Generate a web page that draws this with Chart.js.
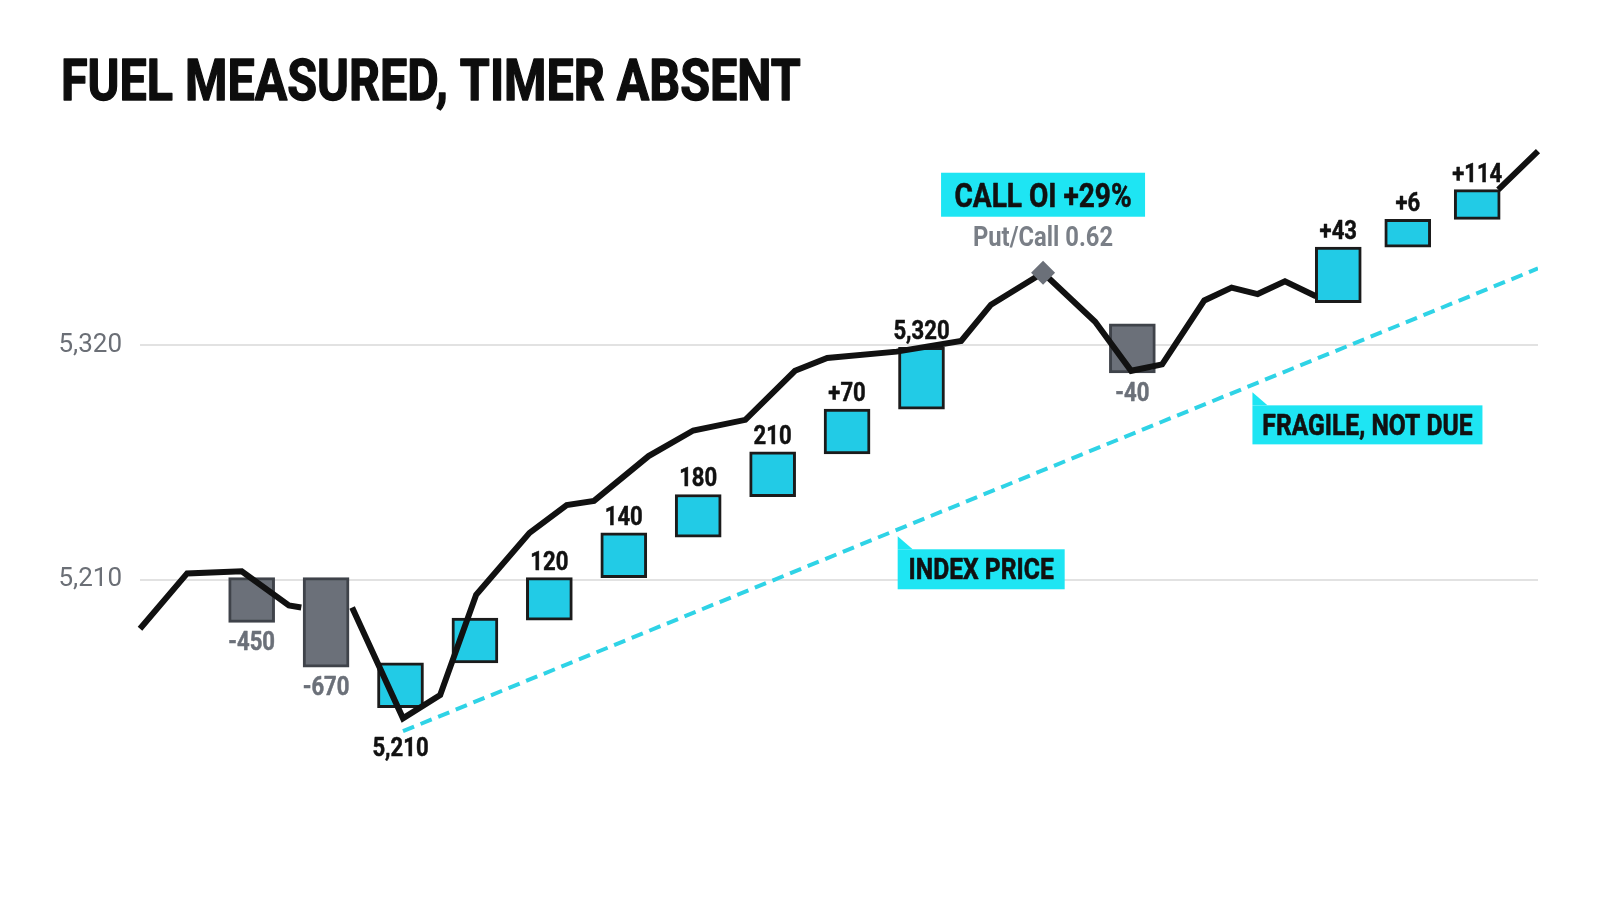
<!DOCTYPE html>
<html>
<head>
<meta charset="utf-8">
<script src="https://cdn.jsdelivr.net/npm/chart.js@4.4.1/dist/chart.umd.min.js"></script>
<style>
  html, body { margin: 0; background: #fff; }
  #wrap { width: 1600px; height: 914px; }
</style>
</head>
<body>
<div id="wrap"><canvas id="chart" width="1600" height="914"></canvas></div>
<script>
// index price by session (null = no print)
const priceX = [0, 1.9, 4.1, 6.0, 6.5, 7.5, 8.55, 10.6, 12.1, 13.55, 15.7, 17.2, 18.3, 20.5, 22.3, 24.4, 26.4, 27.7, 30.5, 33.1, 34.3, 36.4, 38.5, 39.95, 41.2, 42.9, 44.0, 45.05, 46.15, 47.4, 48.0, 54.75, 56.35];
const priceY = [5187, 5213, 5214, 5198, 5197, null, 5197, 5145, 5156, 5203, 5232, 5245, 5247, 5268, 5280, 5285, 5308, 5314, 5317, 5322, 5339, 5354, 5331, 5308, 5311, 5341, 5347, 5344, 5350, 5343, null, 5393, 5411];

// flow boxes (floating bars)
const flowX = [4.5, 7.5, 10.5, 13.5, 16.5, 19.5, 22.5, 25.5, 28.5, 31.5, 40.0, 48.3, 51.1, 53.9];
const flowLo = [5190, 5169, 5150, 5171, 5191, 5211, 5230, 5249, 5269, 5290, 5307, 5340, 5366, 5379];
const flowHi = [5211, 5211, 5171, 5192, 5211, 5232, 5250, 5270, 5290, 5319, 5330, 5366, 5379, 5393];
const flowLabels = ['-450', '-670', '5,210', '', '120', '140', '180', '210', '+70', '5,320', '-40', '+43', '+6', '+114'];
const flowBelow = [1, 1, 1, 0, 0, 0, 0, 0, 0, 0, 1, 0, 0, 0];

// dashed trend
const trendX = [10.6, 56.35];
const trendY = [5139, 5356];

// call OI peak
const peakX = [36.4];
const peakY = [5354];

const yTicks = [5210, 5320];

const BLUE = '#22cbe6';
const GRAY = '#6b7079';
const CYAN = '#1ee5f3';
const SQ = 0.85;

function txt(ctx, s, x, y, size, weight, color, align, sq, stroke) {
  ctx.save();
  ctx.font = weight + ' ' + size + 'px Roboto, "Liberation Sans", sans-serif';
  ctx.fillStyle = color;
  ctx.textAlign = align || 'center';
  ctx.textBaseline = 'alphabetic';
  ctx.translate(x, y);
  ctx.scale(sq || SQ, 1);
  ctx.fillText(s, 0, 0);
  if (stroke) {
    ctx.strokeStyle = color;
    ctx.lineWidth = stroke;
    ctx.lineJoin = 'round';
    ctx.strokeText(s, 0, 0);
  }
  ctx.restore();
}

function callout(ctx, s, left, top, w, h) {
  ctx.save();
  ctx.fillStyle = CYAN;
  ctx.fillRect(left, top, w, h);
  ctx.beginPath();
  ctx.moveTo(left, top - 13);
  ctx.lineTo(left, top);
  ctx.lineTo(left + 15, top);
  ctx.closePath();
  ctx.fill();
  ctx.restore();
  txt(ctx, s, left + w / 2, top + h / 2 + 10, 29, 'bold', '#111', 'center', SQ, 0.6);
}

const decor = {
  id: 'decor',
  afterDatasetsDraw(chart) {
    const ctx = chart.ctx;
    const xs = chart.scales.x, ys = chart.scales.y;

    txt(ctx, 'FUEL MEASURED, TIMER ABSENT', 61, 100, 58, 'bold', '#0d0d0d', 'left', 0.835, 1.4);

    // bar labels
    const line = chart.getDatasetMeta(0).data;
    chart.getDatasetMeta(1).data.forEach((el, i) => {
      const s = flowLabels[i];
      if (!s) return;
      const top = Math.min(el.y, el.base), bot = Math.max(el.y, el.base);
      const col = s[0] === '-' ? GRAY : '#111';
      if (flowBelow[i]) {
        let y = bot + 9;
        line.forEach(p => {
          if (!p.skip && Math.abs(p.x - el.x) < 24 && p.y > bot) y = Math.max(y, p.y + 19);
        });
        txt(ctx, s, el.x, y + 19, 26, 'bold', col, 'center', SQ, 0.5);
      } else {
        txt(ctx, s, el.x, top - 8, 26, 'bold', col, 'center', SQ, 0.5);
      }
    });

    // peak callout
    const px = xs.getPixelForValue(peakX[0]), py = ys.getPixelForValue(peakY[0]);
    ctx.fillStyle = CYAN;
    ctx.fillRect(px - 102, py - 100, 204, 44);
    txt(ctx, 'CALL OI +29%', px, py - 66, 33, 'bold', '#111', 'center', SQ, 0.6);
    txt(ctx, 'Put/Call 0.62', px, py - 27, 28, 'bold', '#7a7f87');

    callout(ctx, 'INDEX PRICE', xs.getPixelForValue(30.54), ys.getPixelForValue(5224.3), 167, 40);
    callout(ctx, 'FRAGILE, NOT DUE', xs.getPixelForValue(44.84), ys.getPixelForValue(5291.8), 230, 39);
  }
};

new Chart(document.getElementById('chart'), {
  type: 'bar',
  data: {
    datasets: [
      {
        type: 'line',
        data: priceX.map((x, i) => ({ x: x, y: priceY[i] })),
        borderColor: '#111',
        borderWidth: 6,
        pointRadius: 0,
        tension: 0,
        spanGaps: false,
        borderJoinStyle: 'miter',
        clip: false,
        order: 1
      },
      {
        type: 'bar',
        data: flowX.map((x, i) => ({ x: x, y: [flowLo[i], flowHi[i]] })),
        backgroundColor: ctx => (flowLabels[ctx.dataIndex] || '')[0] === '-' ? GRAY : BLUE,
        borderColor: ctx => (flowLabels[ctx.dataIndex] || '')[0] === '-' ? '#3f434a' : '#1b1b1b',
        borderWidth: 3,
        borderSkipped: false,
        barThickness: 46,
        order: 2
      },
      {
        type: 'line',
        data: trendX.map((x, i) => ({ x: x, y: trendY[i] })),
        borderColor: '#2fd3e6',
        borderWidth: 4,
        borderDash: [12, 7],
        pointRadius: 0,
        order: 3
      },
      {
        type: 'line',
        data: peakX.map((x, i) => ({ x: x, y: peakY[i] })),
        showLine: false,
        pointStyle: 'rectRot',
        pointRadius: 12,
        pointBackgroundColor: GRAY,
        pointBorderWidth: 0,
        order: 0
      }
    ]
  },
  options: {
    responsive: false,
    animation: false,
    layout: { padding: { top: 132, right: 62, bottom: 121, left: 0 } },
    plugins: { legend: { display: false }, tooltip: { enabled: false } },
    scales: {
      x: { type: 'linear', min: 0, max: 56.35, offset: false, display: false },
      y: {
        min: 5110,
        max: 5420,
        afterFit: s => { s.width = 140; },
        afterBuildTicks: s => { s.ticks = yTicks.map(v => ({ value: v })); },
        ticks: {
          padding: 18,
          color: '#6b6f76',
          font: { family: 'Roboto', size: 26 },
          callback: v => v.toLocaleString('en-US')
        },
        grid: { color: '#e2e2e2', lineWidth: 2, drawTicks: false },
        border: { display: false }
      }
    }
  },
  plugins: [decor]
});
</script>
</body>
</html>
